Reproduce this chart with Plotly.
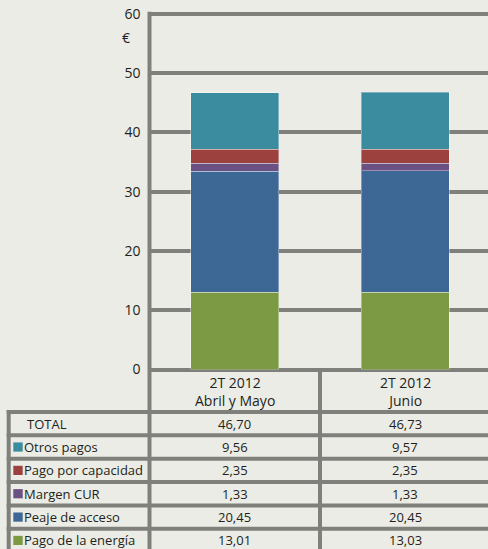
import plotly.graph_objects as go

categories = ["2T 2012<br>Abril y Mayo", "2T 2012<br>Junio"]
series_names = ["Pago de la energía", "Peaje de acceso", "Margen CUR",
                "Pago por capacidad", "Otros pagos"]
energia = [13.01, 13.03]
peaje = [20.45, 20.45]
margen = [1.33, 1.33]
capacidad = [2.35, 2.35]
otros = [9.56, 9.57]
totals = [46.70, 46.73]
colors = ["#7C9944", "#3D6794", "#6A5083", "#9C413E", "#3B8C9E"]

W, H = 488, 549
bg = "#EBECE6"
grid = "#7F807B"
txt = "#231F20"
font = "Open Sans"


def fx(px):
    return px / W


def fy(py):
    return (H - py) / H


series = [energia, peaje, margen, capacidad, otros]

fig = go.Figure()
for name, vals, col in zip(series_names, series, colors):
    fig.add_trace(go.Bar(
        x=[0, 1], y=vals, name=name, width=0.516,
        marker=dict(color=col, line=dict(color="rgba(255,255,255,0.35)", width=1)),
        showlegend=False, hoverinfo="skip",
    ))


def fmt(v):
    return f"{v:.2f}".replace(".", ",")


# table rows, top to bottom
row_labels = ["TOTAL"] + series_names[::-1]
row_colors = [None] + colors[::-1]
row_vals = [totals] + series[::-1]

shapes = []
annotations = []
lw = 4
axis_x = 149.5
zero_y = 369.5
top_y = 13.7
header_bottom = 412
row_h = 23.35
col_div = 320
left_x = 8.7
ymax = 62  # a little headroom so plotly keeps the gridline at 60
px_per_unit = (zero_y - top_y) / 60

# y axis line + table column borders
shapes.append(dict(type="line", xref="paper", yref="paper",
                   x0=fx(axis_x), x1=fx(axis_x), y0=fy(top_y - 2), y1=fy(H + 5),
                   line=dict(color=grid, width=lw)))
shapes.append(dict(type="line", xref="paper", yref="paper",
                   x0=fx(col_div), x1=fx(col_div), y0=fy(zero_y), y1=fy(H + 5),
                   line=dict(color=grid, width=lw)))
shapes.append(dict(type="line", xref="paper", yref="paper",
                   x0=fx(left_x), x1=fx(left_x), y0=fy(header_bottom - 2), y1=fy(H + 5),
                   line=dict(color=grid, width=lw)))
for i in range(len(row_labels)):
    yl = header_bottom + i * row_h
    shapes.append(dict(type="line", xref="paper", yref="paper",
                       x0=fx(left_x - 2), x1=1.0, y0=fy(yl), y1=fy(yl),
                       line=dict(color=grid, width=lw)))

# header
for i, c in enumerate(categories):
    annotations.append(dict(text=c, xref="x", yref="paper", x=i,
                            y=fy((zero_y + header_bottom) / 2 + 0.5), yanchor="middle",
                            showarrow=False, align="center",
                            font=dict(family=font, size=14, color=txt)))

# rows
for r, (lab, col, vals) in enumerate(zip(row_labels, row_colors, row_vals)):
    yc = header_bottom + (r + 0.5) * row_h
    xl = 24.5 if col is None else 21.8
    annotations.append(dict(text=lab, xref="paper", yref="paper", x=fx(xl),
                            y=fy(yc), xanchor="left", yanchor="middle",
                            showarrow=False,
                            font=dict(family=font, size=13, color=txt)))
    if col:
        shapes.append(dict(type="rect", xref="paper", yref="paper",
                           x0=fx(13.3), x1=fx(22.7), y0=fy(yc - 4.6), y1=fy(yc + 4.6),
                           fillcolor=col, line=dict(width=0)))
    for i, v in enumerate(vals):
        annotations.append(dict(text=fmt(v), xref="x", yref="paper", x=i,
                                y=fy(yc), yanchor="middle", showarrow=False,
                                font=dict(family=font, size=13, color=txt)))

annotations.append(dict(text="€", xref="paper", yref="y", x=fx(126), y=56,
                        xanchor="center", yanchor="middle",
                        showarrow=False, font=dict(size=14, family=font, color=txt)))

fig.update_layout(
    width=W, height=H,
    margin=dict(l=0, r=0, t=0, b=0),
    paper_bgcolor=bg, plot_bgcolor=bg,
    barmode="stack",
    font=dict(family=font, size=14, color=txt),
    xaxis=dict(domain=[fx(axis_x), 1], range=[-0.5, (W - axis_x) / 170.5 - 0.5],
               showticklabels=False, showgrid=False, zeroline=False,
               automargin=False, fixedrange=True),
    yaxis=dict(domain=[fy(zero_y), fy(top_y - (ymax - 60) * px_per_unit)],
               range=[0, ymax], tick0=0, dtick=10,
               showgrid=True, gridcolor=grid, gridwidth=lw,
               zeroline=True, zerolinecolor=grid, zerolinewidth=lw,
               showline=False,
               ticklabelstandoff=8, tickfont=dict(size=14, color=txt),
               automargin=False, fixedrange=True),
    shapes=shapes,
    annotations=annotations,
)

fig.write_html("out.html", config={"displayModeBar": False},
               post_script="document.body.style.margin='0';")
